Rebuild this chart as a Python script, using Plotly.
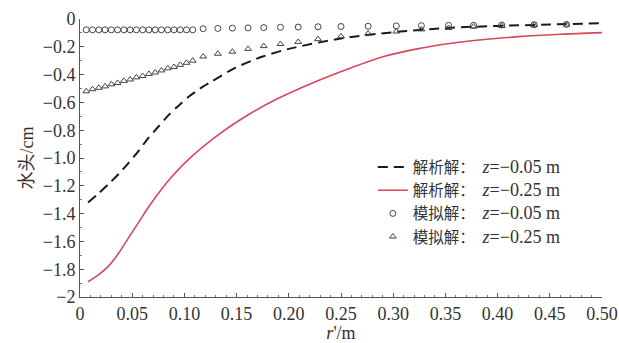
import plotly.graph_objects as go

# Analytical solutions
r_ana_05 = [0.0077, 0.017, 0.027, 0.037, 0.046, 0.056, 0.065, 0.075, 0.085, 0.095, 0.104, 0.115, 0.126,
            0.149, 0.175, 0.20, 0.25, 0.30, 0.35, 0.40, 0.45, 0.50]
h_ana_05 = [-1.32, -1.26, -1.19, -1.115, -1.04, -0.95, -0.86, -0.775, -0.69, -0.62, -0.56, -0.50, -0.45,
            -0.35, -0.27, -0.215, -0.14, -0.095, -0.065, -0.05, -0.04, -0.03]

r_ana_25 = [0.0077, 0.017, 0.027, 0.037, 0.046, 0.056, 0.065, 0.075, 0.085, 0.104, 0.133, 0.162, 0.19,
            0.229, 0.26, 0.291, 0.323, 0.356, 0.39, 0.42, 0.46, 0.50]
h_ana_25 = [-1.89, -1.845, -1.78, -1.685, -1.58, -1.465, -1.36, -1.255, -1.16, -1.01, -0.83, -0.685, -0.57,
            -0.44, -0.35, -0.27, -0.215, -0.175, -0.146, -0.127, -0.11, -0.098]

# Simulated solutions
r_sim = [0.006, 0.012, 0.018, 0.024, 0.030, 0.036, 0.042, 0.048, 0.054, 0.060, 0.066, 0.072, 0.078, 0.084,
         0.090, 0.096, 0.102, 0.108, 0.118, 0.132, 0.146, 0.161, 0.176, 0.192, 0.209, 0.228, 0.250, 0.276,
         0.303, 0.327, 0.353, 0.377, 0.404, 0.435, 0.466]
h_sim_05 = [-0.078, -0.078, -0.078, -0.078, -0.078, -0.078, -0.078, -0.078, -0.078, -0.078, -0.078, -0.078,
            -0.078, -0.078, -0.078, -0.078, -0.078, -0.078, -0.07, -0.068, -0.066, -0.064, -0.062, -0.06,
            -0.058, -0.056, -0.054, -0.052, -0.05, -0.048, -0.046, -0.045, -0.043, -0.041, -0.039]
h_sim_25 = [-0.52, -0.505, -0.495, -0.485, -0.47, -0.46, -0.445, -0.435, -0.42, -0.41, -0.395, -0.385,
            -0.37, -0.355, -0.345, -0.33, -0.315, -0.30, -0.27, -0.25, -0.235, -0.215, -0.195, -0.18,
            -0.165, -0.145, -0.125, -0.105, -0.09, -0.075, -0.065, -0.055, -0.05, -0.045, -0.04]

x_ticks = [0, 0.05, 0.10, 0.15, 0.20, 0.25, 0.30, 0.35, 0.40, 0.45, 0.50]
x_ticktext = ["0", "0.05", "0.10", "0.15", "0.20", "0.25", "0.30", "0.35", "0.40", "0.45", "0.50"]
y_ticks = [0, -0.2, -0.4, -0.6, -0.8, -1.0, -1.2, -1.4, -1.6, -1.8, -2]
y_ticktext = ["0", "−0.2", "−0.4", "−0.6", "−0.8", "−1.0", "−1.2", "−1.4", "−1.6", "−1.8", "−2"]

FONT = "Liberation Serif, Times New Roman, Noto Sans CJK SC, serif"


def label(kind, z):
    return f"{kind}：  <span style='font-size:18px'><i>z</i>=−{z} m</span>"


fig = go.Figure()
fig.add_trace(go.Scatter(x=r_ana_05, y=h_ana_05, mode="lines",
                         line=dict(color="#1a1a1a", width=2, dash="10px,6px", shape="spline", smoothing=0.8),
                         name=label("解析解", "0.05")))
fig.add_trace(go.Scatter(x=r_ana_25, y=h_ana_25, mode="lines",
                         line=dict(color="#d8475c", width=1.6, shape="spline", smoothing=0.8),
                         name=label("解析解", "0.25")))
fig.add_trace(go.Scatter(x=r_sim, y=h_sim_05, mode="markers",
                         marker=dict(symbol="circle-open", size=6, color="#444444", line=dict(width=1)),
                         name=label("模拟解", "0.05")))
fig.add_trace(go.Scatter(x=r_sim, y=h_sim_25, mode="markers",
                         marker=dict(symbol="triangle-up-open", size=6, color="#444444", line=dict(width=1)),
                         name=label("模拟解", "0.25")))

fig.update_layout(
    width=619, height=343,
    margin=dict(l=80, r=17, t=19, b=46, autoexpand=False),
    paper_bgcolor="white", plot_bgcolor="white",
    font=dict(family=FONT, size=18, color="#333333"),
    showlegend=True,
    legend=dict(x=0.561, y=0.527, xanchor="left", yanchor="top",
                bgcolor="rgba(255,255,255,0)", font=dict(size=15.5, family=FONT),
                itemwidth=30, tracegroupgap=0),
    xaxis=dict(range=[0, 0.5], tickvals=x_ticks, ticktext=x_ticktext, ticklabeloverflow="allow",
               automargin=False,
               showgrid=False, zeroline=False, showline=True, linecolor="#555555", linewidth=1,
               ticks="inside", ticklen=4, tickcolor="#555555",
               minor=dict(ticks="inside", ticklen=2, tickcolor="#777777", dtick=0.01),
               title=dict(text="<i>r</i>'/m", font=dict(size=18), standoff=12)),
    yaxis=dict(range=[-2, 0], tickvals=y_ticks, ticktext=y_ticktext, ticklabeloverflow="allow",
               automargin=False,
               showgrid=False, zeroline=False, showline=True, linecolor="#555555", linewidth=1,
               ticks="inside", ticklen=4, tickcolor="#555555",
               minor=dict(ticks="inside", ticklen=2, tickcolor="#777777", dtick=0.1),
               title=dict(text="水头/cm", font=dict(size=18), standoff=4)),
)

fig.write_html("out.html", config={"displayModeBar": False},
               post_script="document.body.style.margin='0';document.body.style.padding='0';")
